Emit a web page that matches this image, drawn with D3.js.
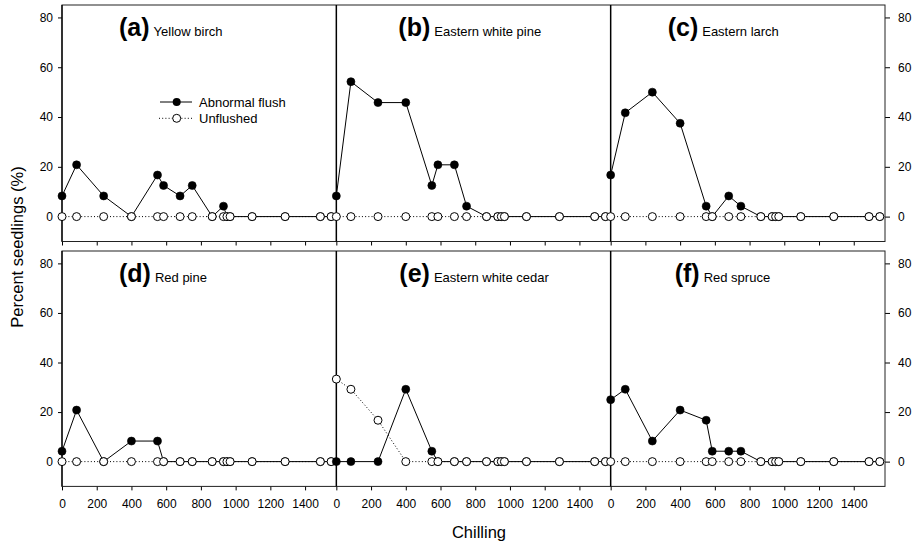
<!DOCTYPE html>
<html>
<head>
<meta charset="utf-8">
<script src="https://cdn.jsdelivr.net/npm/d3@7"></script>
<style>
  html, body { margin: 0; padding: 0; background: #fff; }
  svg { display: block; }
  text { font-family: Arial, "Liberation Sans", sans-serif; fill: #000; }
</style>
</head>
<body>
<svg id="chart" width="917" height="546"></svg>
<script>
// ---------------- DATA ----------------
const chilling = [0, 84, 240, 400, 550, 585, 680, 750, 865, 930, 950, 968, 1095, 1285, 1488, 1550];
const panelLetters = ["(a)", "(b)", "(c)", "(d)", "(e)", "(f)"];
const speciesNames = ["Yellow birch", "Eastern white pine", "Eastern larch", "Red pine", "Eastern white cedar", "Red spruce"];
const seriesNames = ["Abnormal flush", "Unflushed"];

const abnormalA = [8.3, 20.8, 8.3, 0, 16.7, 12.5, 8.3, 12.5, 0, 4.2, 0, 0, 0, 0, 0, 0];
const abnormalB = [8.3, 54.2, 45.8, 45.8, 12.5, 20.8, 20.8, 4.2, 0, 0, 0, 0, 0, 0, 0, 0];
const abnormalC = [16.7, 41.7, 50, 37.5, 4.2, 0, 8.3, 4.2, 0, 0, 0, 0, 0, 0, 0, 0];
const abnormalD = [4.2, 20.8, 0, 8.3, 8.3, 0, 0, 0, 0, 0, 0, 0, 0, 0, 0, 0];
const abnormalE = [0, 0, 0, 29.2, 4.2, 0, 0, 0, 0, 0, 0, 0, 0, 0, 0, 0];
const abnormalF = [25, 29.2, 8.3, 20.8, 16.7, 4.2, 4.2, 4.2, 0, 0, 0, 0, 0, 0, 0, 0];

const unflushedA = [0, 0, 0, 0, 0, 0, 0, 0, 0, 0, 0, 0, 0, 0, 0, 0];
const unflushedB = [0, 0, 0, 0, 0, 0, 0, 0, 0, 0, 0, 0, 0, 0, 0, 0];
const unflushedC = [0, 0, 0, 0, 0, 0, 0, 0, 0, 0, 0, 0, 0, 0, 0, 0];
const unflushedD = [0, 0, 0, 0, 0, 0, 0, 0, 0, 0, 0, 0, 0, 0, 0, 0];
const unflushedE = [33.3, 29.2, 16.7, 0, 0, 0, 0, 0, 0, 0, 0, 0, 0, 0, 0, 0];
const unflushedF = [0, 0, 0, 0, 0, 0, 0, 0, 0, 0, 0, 0, 0, 0, 0, 0];

const xTicks = [0, 200, 400, 600, 800, 1000, 1200, 1400];
const yTicks = [0, 20, 40, 60, 80];
const xDomain = [0, 1580];
const yDomain = [-10, 85];

const abnormal = [abnormalA, abnormalB, abnormalC, abnormalD, abnormalE, abnormalF];
const unflushed = [unflushedA, unflushedB, unflushedC, unflushedD, unflushedE, unflushedF];

// ---------------- LAYOUT ----------------
const plotLeft = 62, plotRight = 885;
const panelW = (plotRight - plotLeft) / 3;
const rows = [{ top: 5, bottom: 241.5 }, { top: 251, bottom: 486.4 }];
const titleOffsets = [57, 62, 57, 57, 63, 64];
const R = 4;

const svg = d3.select("#chart");

rows.forEach((r, ri) => {
  const y = d3.scaleLinear().domain(yDomain).range([r.bottom, r.top]);
  const g = svg.append("g");

  for (let c = 0; c < 3; c++) {
    const x = d3.scaleLinear().domain(xDomain).range([plotLeft + c * panelW, plotLeft + (c + 1) * panelW]);
    const ax = d3.axisBottom(x).tickValues(xTicks).tickSize(4).tickPadding(9)
      .tickFormat(ri === 1 ? d3.format("d") : () => "");
    const axg = g.append("g").attr("transform", `translate(0,${r.bottom})`).call(ax);
    axg.select(".domain").remove();
    axg.selectAll("line").attr("stroke", "#000");
    axg.selectAll("text").style("font-size", "12px").attr("fill", "#111");
  }

  const axL = d3.axisLeft(y).tickValues(yTicks).tickSize(4).tickPadding(5);
  const lg = g.append("g").attr("transform", `translate(${plotLeft},0)`).call(axL);
  lg.select(".domain").remove();
  lg.selectAll("text").style("font-size", "12px").attr("fill", "#111");

  const axR = d3.axisRight(y).tickValues(yTicks).tickSize(5).tickPadding(8);
  const rg = g.append("g").attr("transform", `translate(${plotRight},0)`).call(axR);
  rg.select(".domain").remove();
  rg.selectAll("text").style("font-size", "12px").attr("fill", "#111");

  g.append("rect").attr("x", plotLeft).attr("y", r.top)
    .attr("width", plotRight - plotLeft).attr("height", r.bottom - r.top)
    .attr("fill", "none").attr("stroke", "#222").attr("stroke-width", 1);
  for (let c = 1; c < 3; c++) {
    g.append("line").attr("x1", plotLeft + c * panelW).attr("x2", plotLeft + c * panelW)
      .attr("y1", r.top).attr("y2", r.bottom).attr("stroke", "#000").attr("stroke-width", 1.5);
  }
  g.append("line").attr("x1", plotLeft).attr("x2", plotLeft)
    .attr("y1", r.top).attr("y2", r.bottom).attr("stroke", "#000").attr("stroke-width", 1.3);
});

for (let i = 0; i < 6; i++) {
  const c = i % 3, ri = Math.floor(i / 3);
  const r = rows[ri];
  const x = d3.scaleLinear().domain(xDomain).range([plotLeft + c * panelW, plotLeft + (c + 1) * panelW]);
  const y = d3.scaleLinear().domain(yDomain).range([r.bottom, r.top]);
  const g = svg.append("g");
  const ab = chilling.map((d, k) => [d, abnormal[i][k]]);
  const un = chilling.map((d, k) => [d, unflushed[i][k]]);
  const line = d3.line().x(d => x(d[0])).y(d => y(d[1]));

  g.append("path").attr("d", line(un)).attr("fill", "none").attr("stroke", "#000")
    .attr("stroke-width", 1).attr("stroke-dasharray", "1,2.2");
  g.append("path").attr("d", line(ab)).attr("fill", "none").attr("stroke", "#000")
    .attr("stroke-width", 1);
  g.selectAll("circle.ab").data(ab).join("circle").attr("class", "ab")
    .attr("cx", d => x(d[0])).attr("cy", d => y(d[1])).attr("r", R)
    .attr("fill", "#000").attr("stroke", "#000").attr("stroke-width", 0.6);
  g.selectAll("circle.un").data(un).join("circle").attr("class", "un")
    .attr("cx", d => x(d[0])).attr("cy", d => y(d[1])).attr("r", R)
    .attr("fill", "#fff").attr("stroke", "#000").attr("stroke-width", 1);

  const t = g.append("text").attr("x", plotLeft + c * panelW + titleOffsets[i]).attr("y", r.top + 31);
  t.append("tspan").text(panelLetters[i]).style("font-size", "25px").style("font-weight", "bold");
  t.append("tspan").text(speciesNames[i]).style("font-size", "13px").attr("dx", 4);
}

const legend = svg.append("g");
const legY = [102, 118.3];
legend.append("line").attr("x1", 160).attr("x2", 192).attr("y1", legY[0]).attr("y2", legY[0])
  .attr("stroke", "#000").attr("stroke-width", 1);
legend.append("circle").attr("cx", 176.7).attr("cy", legY[0]).attr("r", R).attr("fill", "#000");
legend.append("line").attr("x1", 159).attr("x2", 192).attr("y1", legY[1]).attr("y2", legY[1])
  .attr("stroke", "#000").attr("stroke-width", 1).attr("stroke-dasharray", "1,2.2");
legend.append("circle").attr("cx", 176.7).attr("cy", legY[1]).attr("r", R)
  .attr("fill", "#fff").attr("stroke", "#000");
seriesNames.forEach((s, k) => {
  legend.append("text").attr("x", 199).attr("y", legY[k] + 4.6).text(s).style("font-size", "13px");
});

svg.append("text").attr("x", 479).attr("y", 538).attr("text-anchor", "middle")
  .style("font-size", "16.5px").text("Chilling");
svg.append("text").attr("transform", "translate(23,247) rotate(-90)").attr("text-anchor", "middle")
  .style("font-size", "16.5px").text("Percent seedlings (%)");
</script>
</body>
</html>
